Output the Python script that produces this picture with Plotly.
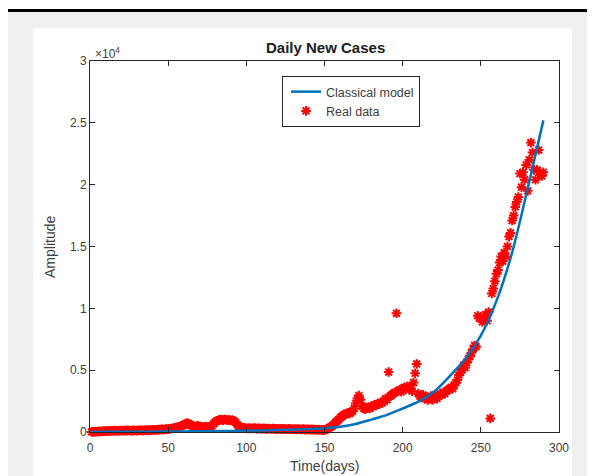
import plotly.graph_objects as go

# ---------------- data ----------------
real_days = list(range(1, 291))
real_cases = [
    10, 20, 30, 25, 40, 50, 45, 60, 70, 65,
    80, 90, 75, 100, 95, 110, 105, 90, 120, 115,
    100, 125, 110, 130, 120, 105, 115, 135, 120, 110,
    125, 140, 130, 120, 145, 150, 135, 160, 155, 170,
    160, 180, 175, 190, 200, 210, 195, 220, 240, 230,
    260, 280, 300, 320, 350, 380, 420, 470, 520, 580,
    650, 720, 690, 600, 520, 460, 430, 470, 500, 450,
    420, 390, 410, 450, 400, 380, 420, 500, 650, 800,
    880, 950, 980, 1000, 960, 1010, 990, 950, 980, 930,
    960, 900, 800, 620, 470, 400, 360, 330, 310, 300,
    290, 310, 280, 300, 320, 290, 270, 300, 280, 260,
    290, 270, 250, 280, 260, 240, 270, 250, 230, 260,
    240, 250, 230, 260, 240, 220, 250, 230, 240, 220,
    230, 210, 240, 220, 200, 230, 210, 190, 220, 200,
    190, 210, 180, 200, 170, 190, 160, 180, 150, 170,
    200, 260, 330, 420, 500, 620, 750, 880, 1000, 1150,
    1250, 1350, 1420, 1500, 1550, 1480, 1600, 1700, 1900, 2300,
    2700, 2950, 2600, 2100, 1900, 1850, 1950, 2000, 1900, 2100,
    2050, 2200, 2150, 2300, 2250, 2400, 2350, 2500, 2700, 2600,
    4850, 2900, 3000, 3100, 3200, 9600, 3300, 3400, 3250, 3500,
    3600, 3450, 3700, 3600, 3500, 3300, 4000, 4750, 5500, 3100,
    2900, 2800, 3000, 2700, 2850, 2600, 2750, 2900, 2600, 2800,
    3000, 2700, 2900, 3100, 3000, 3200, 3100, 3300, 3400, 3500,
    3600, 3500, 3800, 4000, 4200, 4600, 4800, 5100, 5400, 5200,
    5600, 5900, 6100, 6400, 6700, 7000, 6900, 9400, 9200, 9300,
    8900, 9100, 9500, 9000, 9700, 1100, 11200, 11600, 12200, 12800,
    13100, 13700, 14200, 13800, 14500, 14200, 15000, 15800, 16100, 17100,
    17500, 18200, 18600, 19000, 20900, 19800, 21000, 20400, 21600, 19500,
    22000, 23400, 22600, 21200, 20400, 21200, 22800, 20800, 20700, 21000,
]

model_days = [0, 10, 20, 30, 40, 50, 60, 70, 80, 90, 100, 110, 120, 130, 140,
              150, 160, 170, 180, 190, 200, 210, 220, 230, 240, 250, 260, 270, 280, 290]
model_cases = [10, 15, 20, 25, 30, 40, 50, 60, 75, 90, 110, 130, 160, 190, 240,
               300, 420, 650, 1000, 1380, 1900, 2450, 3250, 4500, 5900, 7800, 10600, 14500, 19700, 25200]

x_ticks = [0, 50, 100, 150, 200, 250, 300]
x_tick_labels = ["0", "50", "100", "150", "200", "250", "300"]
y_ticks = [0, 5000, 10000, 15000, 20000, 25000, 30000]
y_tick_labels = ["0", "0.5", "1", "1.5", "2", "2.5", "3"]

title_text = "Daily New Cases"
x_label = "Time(days)"
y_label = "Amplitude"
series_names = ["Classical model", "Real data"]

# ---------------- layout geometry ----------------
# The page has an 8px body margin; the figure is sized so that it fills the window.
OFF = 8
W, H = 595 - OFF, 476 - OFF
L, R, T, B = 90, 559, 61, 432   # plot area in page pixels


def px_x(px):
    return (px - L) / (R - L)


def px_y(py):
    return (B - py) / (B - T)


FONT = "Liberation Sans, Arial, Helvetica, sans-serif"
AX = "#262626"
TXT = "#404040"

fig = go.Figure()

fig.add_trace(go.Scatter(
    x=real_days, y=real_cases, mode="markers", name=series_names[1],
    marker=dict(symbol="asterisk-open", size=8, color="#ff0000",
                line=dict(color="#ff0000", width=2)),
    legendrank=2, cliponaxis=False,
))
fig.add_trace(go.Scatter(
    x=model_days, y=model_cases, mode="lines", name=series_names[0],
    line=dict(color="#0072BD", width=2.5, shape="spline", smoothing=0.8),
    legendrank=1,
))

axis_common = dict(
    showgrid=False, zeroline=False, showline=True, linecolor=AX, linewidth=1,
    mirror="ticks", ticks="inside", ticklen=5, tickcolor=AX, tickwidth=1,
    tickfont=dict(family=FONT, size=12, color=TXT),
)

fig.update_layout(
    width=W, height=H,
    margin=dict(l=L - OFF, r=595 - R, t=T - OFF, b=476 - B, pad=0),
    paper_bgcolor="white", plot_bgcolor="white",
    showlegend=True,
    legend=dict(
        x=px_x(282), y=px_y(76), xanchor="left", yanchor="top",
        bgcolor="white", bordercolor=AX, borderwidth=1,
        font=dict(family=FONT, size=12.5, color=TXT),
        tracegroupgap=0, indentation=3,
    ),
    xaxis=dict(range=[0, 300], tickvals=x_ticks, ticktext=x_tick_labels,
               ticklabelstandoff=5, **axis_common),
    yaxis=dict(range=[0, 30000], tickvals=y_ticks, ticktext=y_tick_labels, **axis_common),
)

shapes = [
    dict(type="rect", xref="paper", yref="paper", layer="below",
         x0=px_x(7), x1=px_x(600), y0=px_y(480), y1=px_y(12),
         fillcolor="#f0f0f0", line=dict(width=0)),
    dict(type="rect", xref="paper", yref="paper", layer="below",
         x0=px_x(33), x1=px_x(572), y0=px_y(480), y1=px_y(28),
         fillcolor="white", line=dict(width=0)),
    dict(type="rect", xref="paper", yref="paper", layer="below",
         x0=px_x(7), x1=px_x(600), y0=px_y(12), y1=px_y(9),
         fillcolor="black", line=dict(width=0)),
]
fig.update_layout(shapes=shapes)

annotations = [
    dict(text="<b>" + title_text + "</b>", x=px_x(325), y=px_y(48), xref="paper", yref="paper",
         xanchor="center", yanchor="middle", showarrow=False,
         font=dict(family=FONT, size=15, color="#202020")),
    dict(text=x_label, x=px_x(325), y=px_y(466), xref="paper", yref="paper",
         xanchor="center", yanchor="middle", showarrow=False,
         font=dict(family=FONT, size=14, color=TXT)),
    dict(text=y_label, x=px_x(50), y=px_y(247), xref="paper", yref="paper",
         xanchor="center", yanchor="middle", showarrow=False, textangle=-90,
         font=dict(family=FONT, size=14, color=TXT)),
    dict(text="×10<sup>4</sup>", x=px_x(93), y=px_y(53), xref="paper", yref="paper",
         xanchor="left", yanchor="middle", showarrow=False,
         font=dict(family=FONT, size=12, color=TXT)),
]
fig.update_layout(annotations=annotations)

fig.write_html("out.html")
